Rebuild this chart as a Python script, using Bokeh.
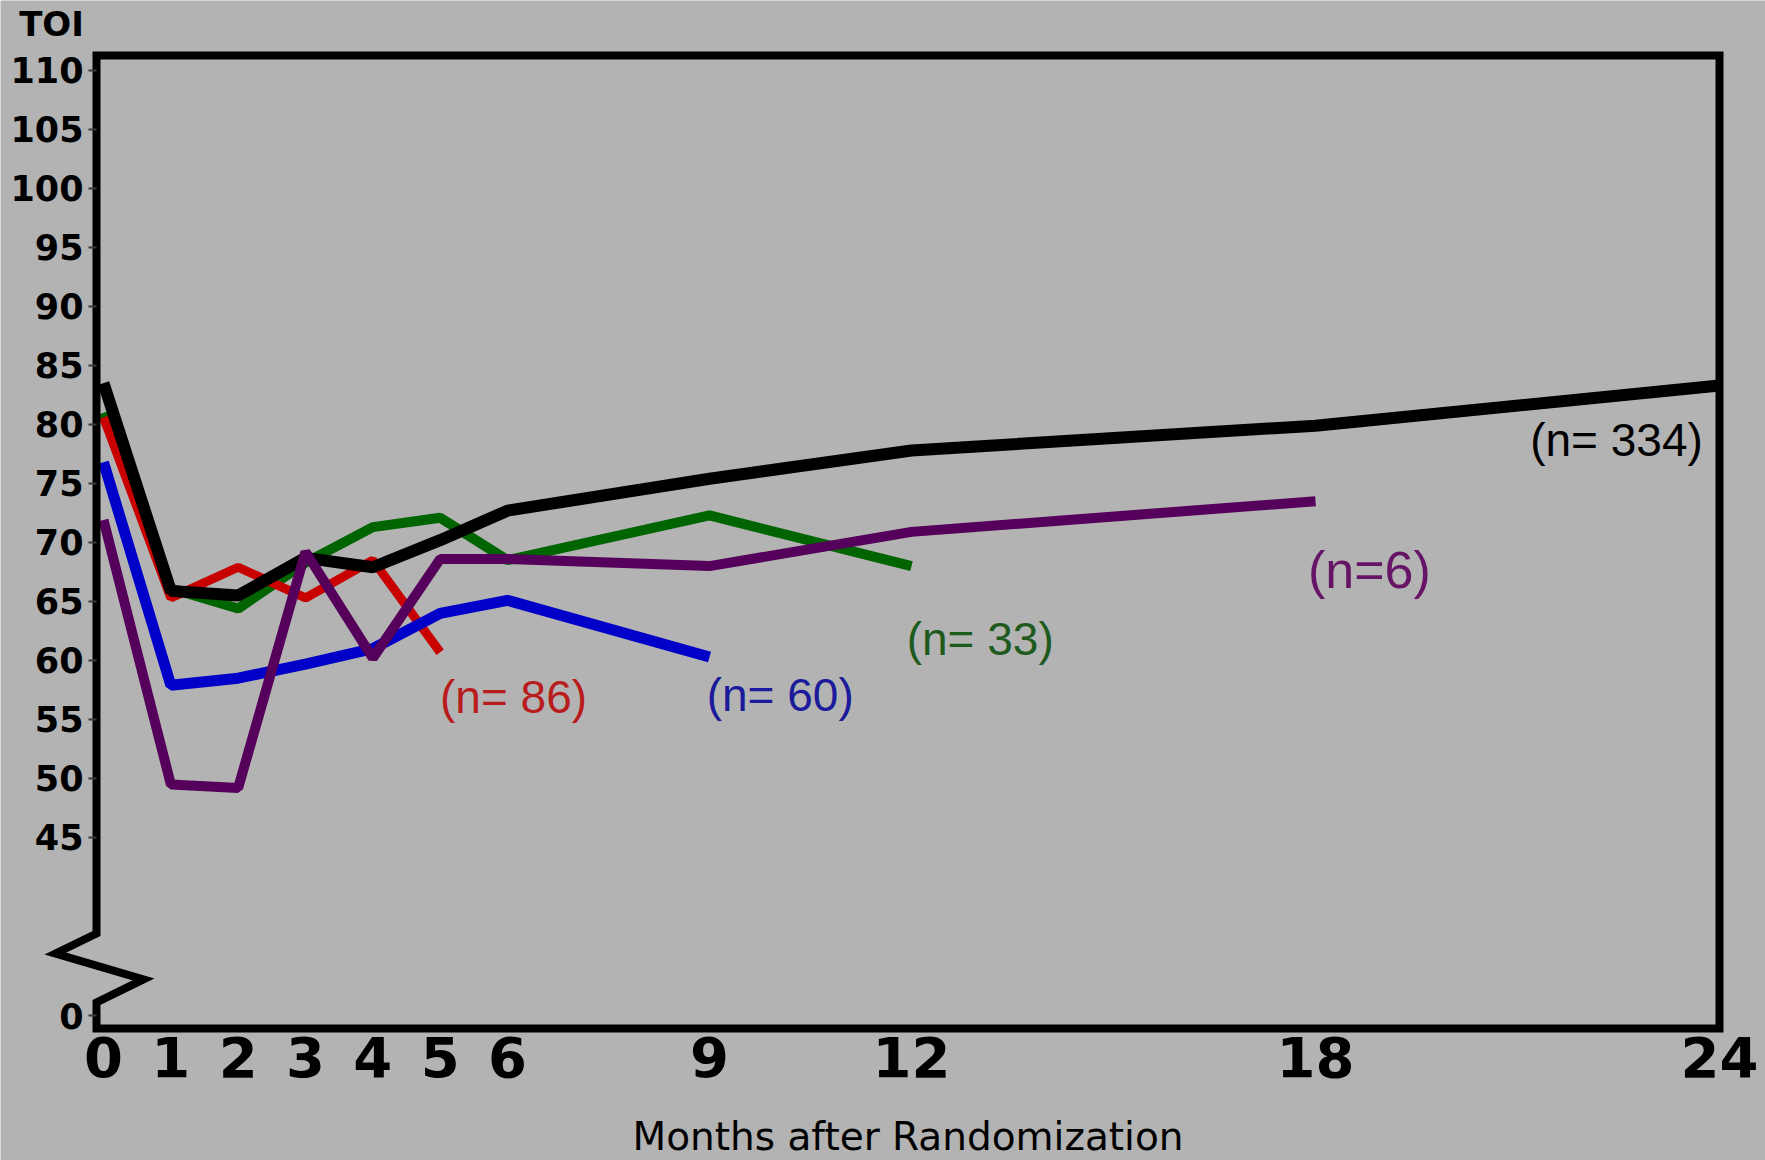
from bokeh.plotting import figure
from bokeh.models import FixedTicker, Label, Range1d, ColumnDataSource
from bokeh.core.properties import value
from bokeh.embed import file_html
from bokeh.resources import INLINE

# ---------------- data ----------------
month_ticks = [0, 1, 2, 3, 4, 5, 6, 9, 12, 18, 24]
toi_ticks = [45, 50, 55, 60, 65, 70, 75, 80, 85, 90, 95, 100, 105, 110]
zero_tick_label = "0"

months_n334 = [0, 1, 2, 3, 4, 5, 6, 9, 12, 18, 24]
toi_n334 = [83.5, 65.9, 65.5, 68.7, 67.9, 70.2, 72.7, 75.4, 77.8, 79.9, 83.3]

months_n86 = [0, 1, 2, 3, 4, 5]
toi_n86 = [80.6, 65.3, 67.9, 65.3, 68.5, 60.7]

months_n60 = [0, 1, 2, 3, 4, 5, 6, 9]
toi_n60 = [76.8, 57.9, 58.5, 59.7, 61.0, 64.0, 65.1, 60.3]

months_n33 = [0, 1, 2, 3, 4, 5, 6, 9, 12]
toi_n33 = [81.0, 66.1, 64.4, 68.3, 71.3, 72.1, 68.5, 72.3, 68.0]

months_n6 = [0, 1, 2, 3, 4, 5, 6, 9, 12, 18]
toi_n6 = [71.9, 49.5, 49.2, 69.2, 60.2, 68.6, 68.6, 68.0, 70.9, 73.5]

group_labels = ["(n= 86)", "(n= 60)", "(n= 33)", "(n=6)", "(n= 334)"]

# ---------------- layout / style ----------------
W, H = 1765, 1160
X_START, X_END = -1.5297, 24.683      # frame covers whole canvas
Y_START, Y_END = 17.627, 115.932
X_LEFT = -0.104                       # left edge of the plot box
Y_TOP, Y_BOT = 111.271, 28.814        # top / bottom edges of the plot box
Y_BREAK = 29.915                      # virtual position of the "0" tick below the axis break
BG = "#b3b3b3"

label_pos_x = [6.09, 10.05, 13.02, 18.8, 22.47]
label_pos_y = [56.9, 57.1, 61.8, 67.7, 78.7]
label_colors = ["#b81c1c", "#1a1a9a", "#1e5a1e", "#661466", "#000000"]
label_sizes = ["46px", "46px", "46px", "52px", "46px"]

p = figure(width=W, height=H, output_backend="svg", toolbar_location=None, title=None,
           x_range=Range1d(X_START, X_END), y_range=Range1d(Y_START, Y_END),
           min_border_left=0, min_border_right=0, min_border_top=0, min_border_bottom=0,
           background_fill_color=BG, border_fill_color=BG)
p.outline_line_color = None
p.xgrid.visible = False
p.ygrid.visible = False

# x axis, fixed on the bottom edge of the box
p.xaxis.fixed_location = Y_BOT
p.xaxis.bounds = (X_LEFT, 24)
p.xaxis.ticker = FixedTicker(ticks=month_ticks)
p.xaxis.axis_line_color = None
p.xaxis.major_tick_line_color = None
p.xaxis.minor_tick_line_color = None
p.xaxis.major_label_standoff = 3
p.xaxis.major_label_text_font = "DejaVu Sans"
p.xaxis.major_label_text_font_style = "bold"
p.xaxis.major_label_text_font_size = "56px"
p.xaxis.major_label_text_color = "#000000"
p.xaxis.axis_label = "Months after Randomization"
p.xaxis.axis_label_text_font = "DejaVu Sans"
p.xaxis.axis_label_text_font_style = "normal"
p.xaxis.axis_label_text_font_size = "39px"
p.xaxis.axis_label_text_color = "#000000"
p.xaxis.axis_label_standoff = 33

# y axis (with break: 0 drawn at virtual Y_BREAK), fixed on the left edge of the box
p.yaxis.fixed_location = X_LEFT
p.yaxis.ticker = FixedTicker(ticks=[Y_BREAK] + toi_ticks)
p.yaxis.major_label_overrides = {Y_BREAK: zero_tick_label}
p.yaxis.axis_line_color = None
p.yaxis.major_tick_out = 8
p.yaxis.major_tick_in = 0
p.yaxis.major_tick_line_width = 2
p.yaxis.major_tick_line_color = "#3a3a3a"
p.yaxis.minor_tick_line_color = None
p.yaxis.major_label_standoff = 5
p.yaxis.major_label_text_font = "DejaVu Sans"
p.yaxis.major_label_text_font_style = "bold"
p.yaxis.major_label_text_font_size = "35px"
p.yaxis.major_label_text_color = "#000000"

# series
p.line(months_n33, toi_n33, line_color="#006400", line_width=10)
p.line(months_n86, toi_n86, line_color="#c80000", line_width=9)
p.line(months_n60, toi_n60, line_color="#0000c8", line_width=11)
p.line(months_n334, toi_n334, line_color="#000000", line_width=12)
p.line(months_n6, toi_n6, line_color="#55005a", line_width=10)

# group labels
src = ColumnDataSource(dict(x=label_pos_x, y=label_pos_y, text=group_labels,
                            color=label_colors, size=label_sizes))
p.text(x="x", y="y", text="text", text_color="color", text_font_size="size", source=src,
       text_font=value("Liberation Sans"),
       text_align="center", text_baseline="middle")

# box border with the axis-break zigzag on the left edge
brk_x = [X_LEFT, 0.594, -0.713, X_LEFT]
brk_y = [31.02, 32.97, 35.17, 36.86]
border_x = [X_LEFT, 24, 24, X_LEFT] + brk_x
border_y = [Y_TOP, Y_TOP, Y_BOT, Y_BOT] + brk_y
p.patch(border_x, border_y, fill_color=None, line_color="#000000",
        line_width=8, line_join="miter")

# y-axis title at the top
p.add_layout(Label(x=-0.772, y=113.98, text="TOI", text_align="center",
                   text_baseline="middle", text_font="DejaVu Sans",
                   text_font_style="bold", text_font_size="34px", text_color="#000000"))

open("out.html", "w").write(file_html(p, INLINE))
